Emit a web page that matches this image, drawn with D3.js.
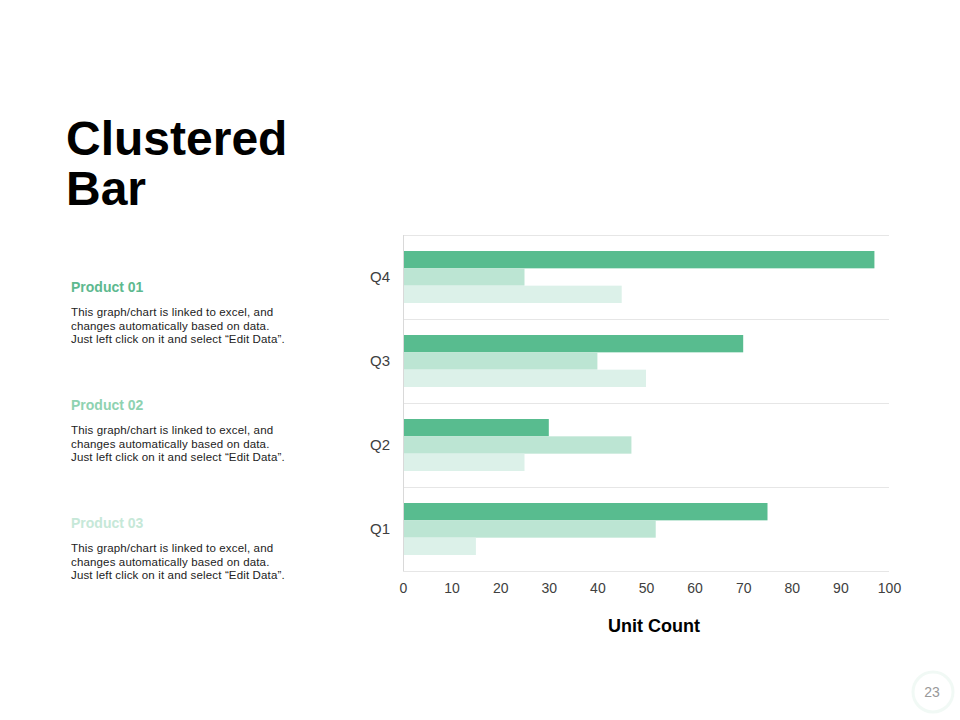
<!DOCTYPE html>
<html>
<head>
<meta charset="utf-8">
<script src="https://cdn.jsdelivr.net/npm/d3@7"></script>
<style>
  body { margin: 0; background: #fff; font-family: Arial, "Liberation Sans", sans-serif; }
</style>
</head>
<body>
<div class="chart"></div>
<script>
// Clustered Bar - D3

// Chart data
var quarters = ["Q4", "Q3", "Q2", "Q1"];
var products = ["Product 01", "Product 02", "Product 03"];
var product01 = [97, 70, 30, 75];
var product02 = [25, 40, 47, 52];
var product03 = [45, 50, 25, 15];
var xTicks = [0, 10, 20, 30, 40, 50, 60, 70, 80, 90, 100];
var productColors = ["#58bc8f", "#bce5d3", "#dcf1e9"];
var titleColors = ["#5db98f", "#8ed2b1", "#c6e8d8"];
var blurb = [
  "This graph/chart is linked to excel, and",
  "changes automatically based on data.",
  "Just left click on it and select \u201cEdit Data\u201d."
];

var svgWidth = 960;
var svgHeight = 720;

var svg = d3.select(".chart")
  .append("svg")
  .attr("width", svgWidth)
  .attr("height", svgHeight);

// Slide title
var title = svg.append("text")
  .attr("x", 66)
  .attr("y", 155)
  .attr("font-size", "48px")
  .attr("font-weight", "bold")
  .attr("fill", "#000");
title.append("tspan").attr("x", 66).text("Clustered");
title.append("tspan").attr("x", 66).attr("dy", 50).text("Bar");

// Left side descriptions
var notes = svg.selectAll(".note")
  .data(products)
  .enter()
  .append("g")
  .attr("class", "note")
  .attr("transform", (d, i) => `translate(71, ${292 + i * 118})`);

notes.append("text")
  .attr("font-size", "14px")
  .attr("font-weight", "bold")
  .attr("fill", (d, i) => titleColors[i])
  .text(d => d);

notes.selectAll(".line")
  .data(blurb)
  .enter()
  .append("text")
  .attr("class", "line")
  .attr("y", (d, i) => 24 + i * 13.5)
  .attr("font-size", "11.5px")
  .attr("letter-spacing", "0.15px")
  .attr("fill", "#222")
  .text(d => d);

// Chart area
var margin = { top: 235, left: 403 };
var width = 486;
var height = 336;

var chartGroup = svg.append("g")
  .attr("transform", `translate(${margin.left}, ${margin.top})`);

var xScale = d3.scaleLinear().domain([0, 100]).range([0, width]);
var yScale = d3.scaleBand().domain(quarters).range([0, height]).padding(0);
var innerScale = d3.scaleBand().domain(products)
  .range([16, yScale.bandwidth() - 16]).padding(0);

// Horizontal gridlines at band edges
var edges = quarters.map(q => yScale(q)).concat([height]);
chartGroup.selectAll(".grid")
  .data(edges)
  .enter()
  .append("line")
  .attr("x1", 0)
  .attr("x2", width)
  .attr("y1", d => d + 0.5)
  .attr("y2", d => d + 0.5)
  .attr("stroke", "#e6e6e6");

// Vertical axis line
chartGroup.append("line")
  .attr("x1", 0.5).attr("x2", 0.5)
  .attr("y1", 0).attr("y2", height)
  .attr("stroke", "#d9d9d9");

// Bars
var series = [product01, product02, product03];
series.forEach(function(values, s) {
  chartGroup.selectAll(".bar" + s)
    .data(values)
    .enter()
    .append("rect")
    .attr("x", 1)
    .attr("y", (d, i) => yScale(quarters[i]) + innerScale(products[s]))
    .attr("width", d => xScale(d) - 1)
    .attr("height", innerScale.bandwidth())
    .attr("fill", productColors[s]);
});

// Bottom axis
var bottomAxis = d3.axisBottom(xScale).tickValues(xTicks).tickSize(0).tickPadding(12);
var xAxis = chartGroup.append("g")
  .attr("transform", `translate(0, ${height})`)
  .call(bottomAxis);
xAxis.select(".domain").remove();
xAxis.selectAll("text")
  .attr("font-size", "14px")
  .attr("font-family", "Arial, 'Liberation Sans', sans-serif")
  .attr("fill", "#404040");

// Left axis
var leftAxis = d3.axisLeft(yScale).tickSize(0).tickPadding(13);
var yAxis = chartGroup.append("g").call(leftAxis);
yAxis.select(".domain").remove();
yAxis.selectAll("text")
  .attr("font-size", "15px")
  .attr("font-family", "Arial, 'Liberation Sans', sans-serif")
  .attr("fill", "#404040");

// Axis title
chartGroup.append("text")
  .attr("x", width / 2 + 8)
  .attr("y", height + 61)
  .attr("text-anchor", "middle")
  .attr("font-size", "18px")
  .attr("font-weight", "bold")
  .attr("fill", "#000")
  .text("Unit Count");

// Page number
svg.append("circle")
  .attr("cx", 933)
  .attr("cy", 692)
  .attr("r", 20)
  .attr("fill", "none")
  .attr("stroke", "#f1f9f5")
  .attr("stroke-width", 3);
svg.append("text")
  .attr("x", 932)
  .attr("y", 697)
  .attr("text-anchor", "middle")
  .attr("font-size", "14px")
  .attr("fill", "#999")
  .text("23");
</script>
</body>
</html>
